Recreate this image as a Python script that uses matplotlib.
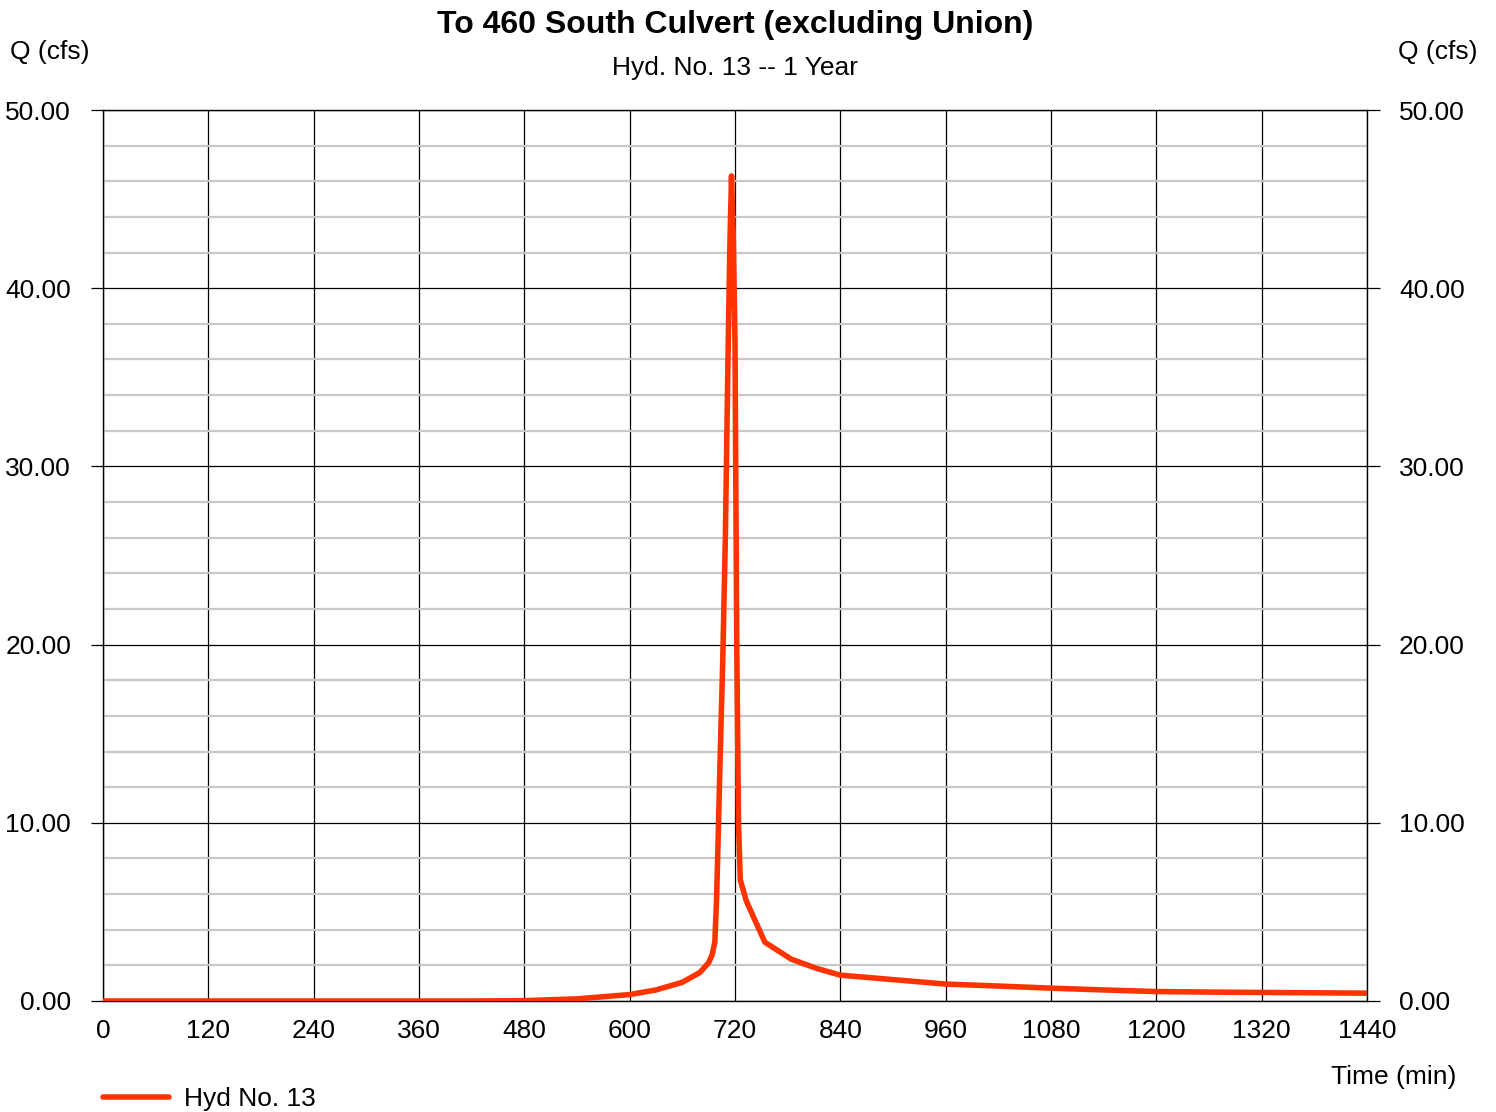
import matplotlib
matplotlib.use("Agg")
import matplotlib.pyplot as plt
from matplotlib.ticker import MultipleLocator

plt.rcParams['font.family'] = ['Liberation Sans', 'DejaVu Sans']

# hydrograph ordinates, time in minutes and flow in cfs
time_min = [0, 420, 480, 540, 600, 630, 660, 680, 690, 694, 697, 699, 701, 703,
            706, 709, 712, 714, 716, 718, 720, 722, 724, 726, 733, 754, 784,
            813, 840, 900, 960, 1020, 1080, 1140, 1200, 1260, 1320, 1380, 1440]
flow_cfs = [0.0, 0.0, 0.02, 0.12, 0.36, 0.62, 1.05, 1.6, 2.15, 2.6, 3.3, 5.7, 9.5, 13.5,
            19.0, 26.0, 36.0, 42.0, 46.3, 43.0, 37.0, 20.0, 10.0, 6.8, 5.6, 3.3, 2.35,
            1.83, 1.45, 1.2, 0.95, 0.84, 0.72, 0.62, 0.53, 0.5, 0.48, 0.46, 0.44]

title = "To 460 South Culvert (excluding Union)"
subtitle = "Hyd. No. 13 -- 1 Year"
series_name = "Hyd No. 13"
line_color = "#ff3300"

fig = plt.figure(figsize=(14.96, 11.12), dpi=100)
ax = fig.add_axes([103 / 1496, 1 - 1001 / 1112, 1264 / 1496, 891 / 1112])

ax.plot(time_min, flow_cfs, color=line_color, lw=4.0, solid_joinstyle='round',
        solid_capstyle='round', zorder=5, label=series_name)

ax.set_xlim(0, 1440)
ax.set_ylim(0, 50)
ax.xaxis.set_major_locator(MultipleLocator(120))
ax.yaxis.set_major_locator(MultipleLocator(10))
ax.yaxis.set_minor_locator(MultipleLocator(2))
ax.yaxis.set_major_formatter(lambda v, p: f"{v:.2f}")

# grid: light minor rows, black major rows and columns
ax.grid(which='minor', axis='y', color='#c8c8c8', lw=1.6, zorder=0)
ax.grid(which='major', axis='y', color='black', lw=0.9, zorder=1)
ax.grid(which='major', axis='x', color='black', lw=0.9, zorder=1)
ax.set_axisbelow(True)

for s in ax.spines.values():
    s.set_color('black')
    s.set_linewidth(1.0)

fs = 19
ax.tick_params(axis='y', which='major', direction='out', length=9, width=0.9,
               labelsize=fs, pad=14, right=True, labelright=True)
ax.tick_params(axis='y', which='minor', length=0)
ax.tick_params(axis='x', which='major', length=0, labelsize=fs, pad=13)

fig.text(735 / 1496, 1 - 25 / 1112, title, ha='center', va='center',
         fontsize=23, fontweight='bold')
fig.text(735 / 1496, 1 - 68 / 1112, subtitle, ha='center', va='center', fontsize=19)
fig.text(10 / 1496, 1 - 52 / 1112, "Q (cfs)", ha='left', va='center', fontsize=fs)
fig.text(1478 / 1496, 1 - 52 / 1112, "Q (cfs)", ha='right', va='center', fontsize=fs)
fig.text(1456 / 1496, 1 - 1077 / 1112, "Time (min)", ha='right', va='center', fontsize=fs)

ax.legend(loc='center left', bbox_to_anchor=(92 / 1496, 1 - 1099 / 1112),
          bbox_transform=fig.transFigure, frameon=False, fontsize=fs,
          handlelength=2.5, handletextpad=0.6, borderaxespad=0)

fig.savefig("out.png", dpi=100)
